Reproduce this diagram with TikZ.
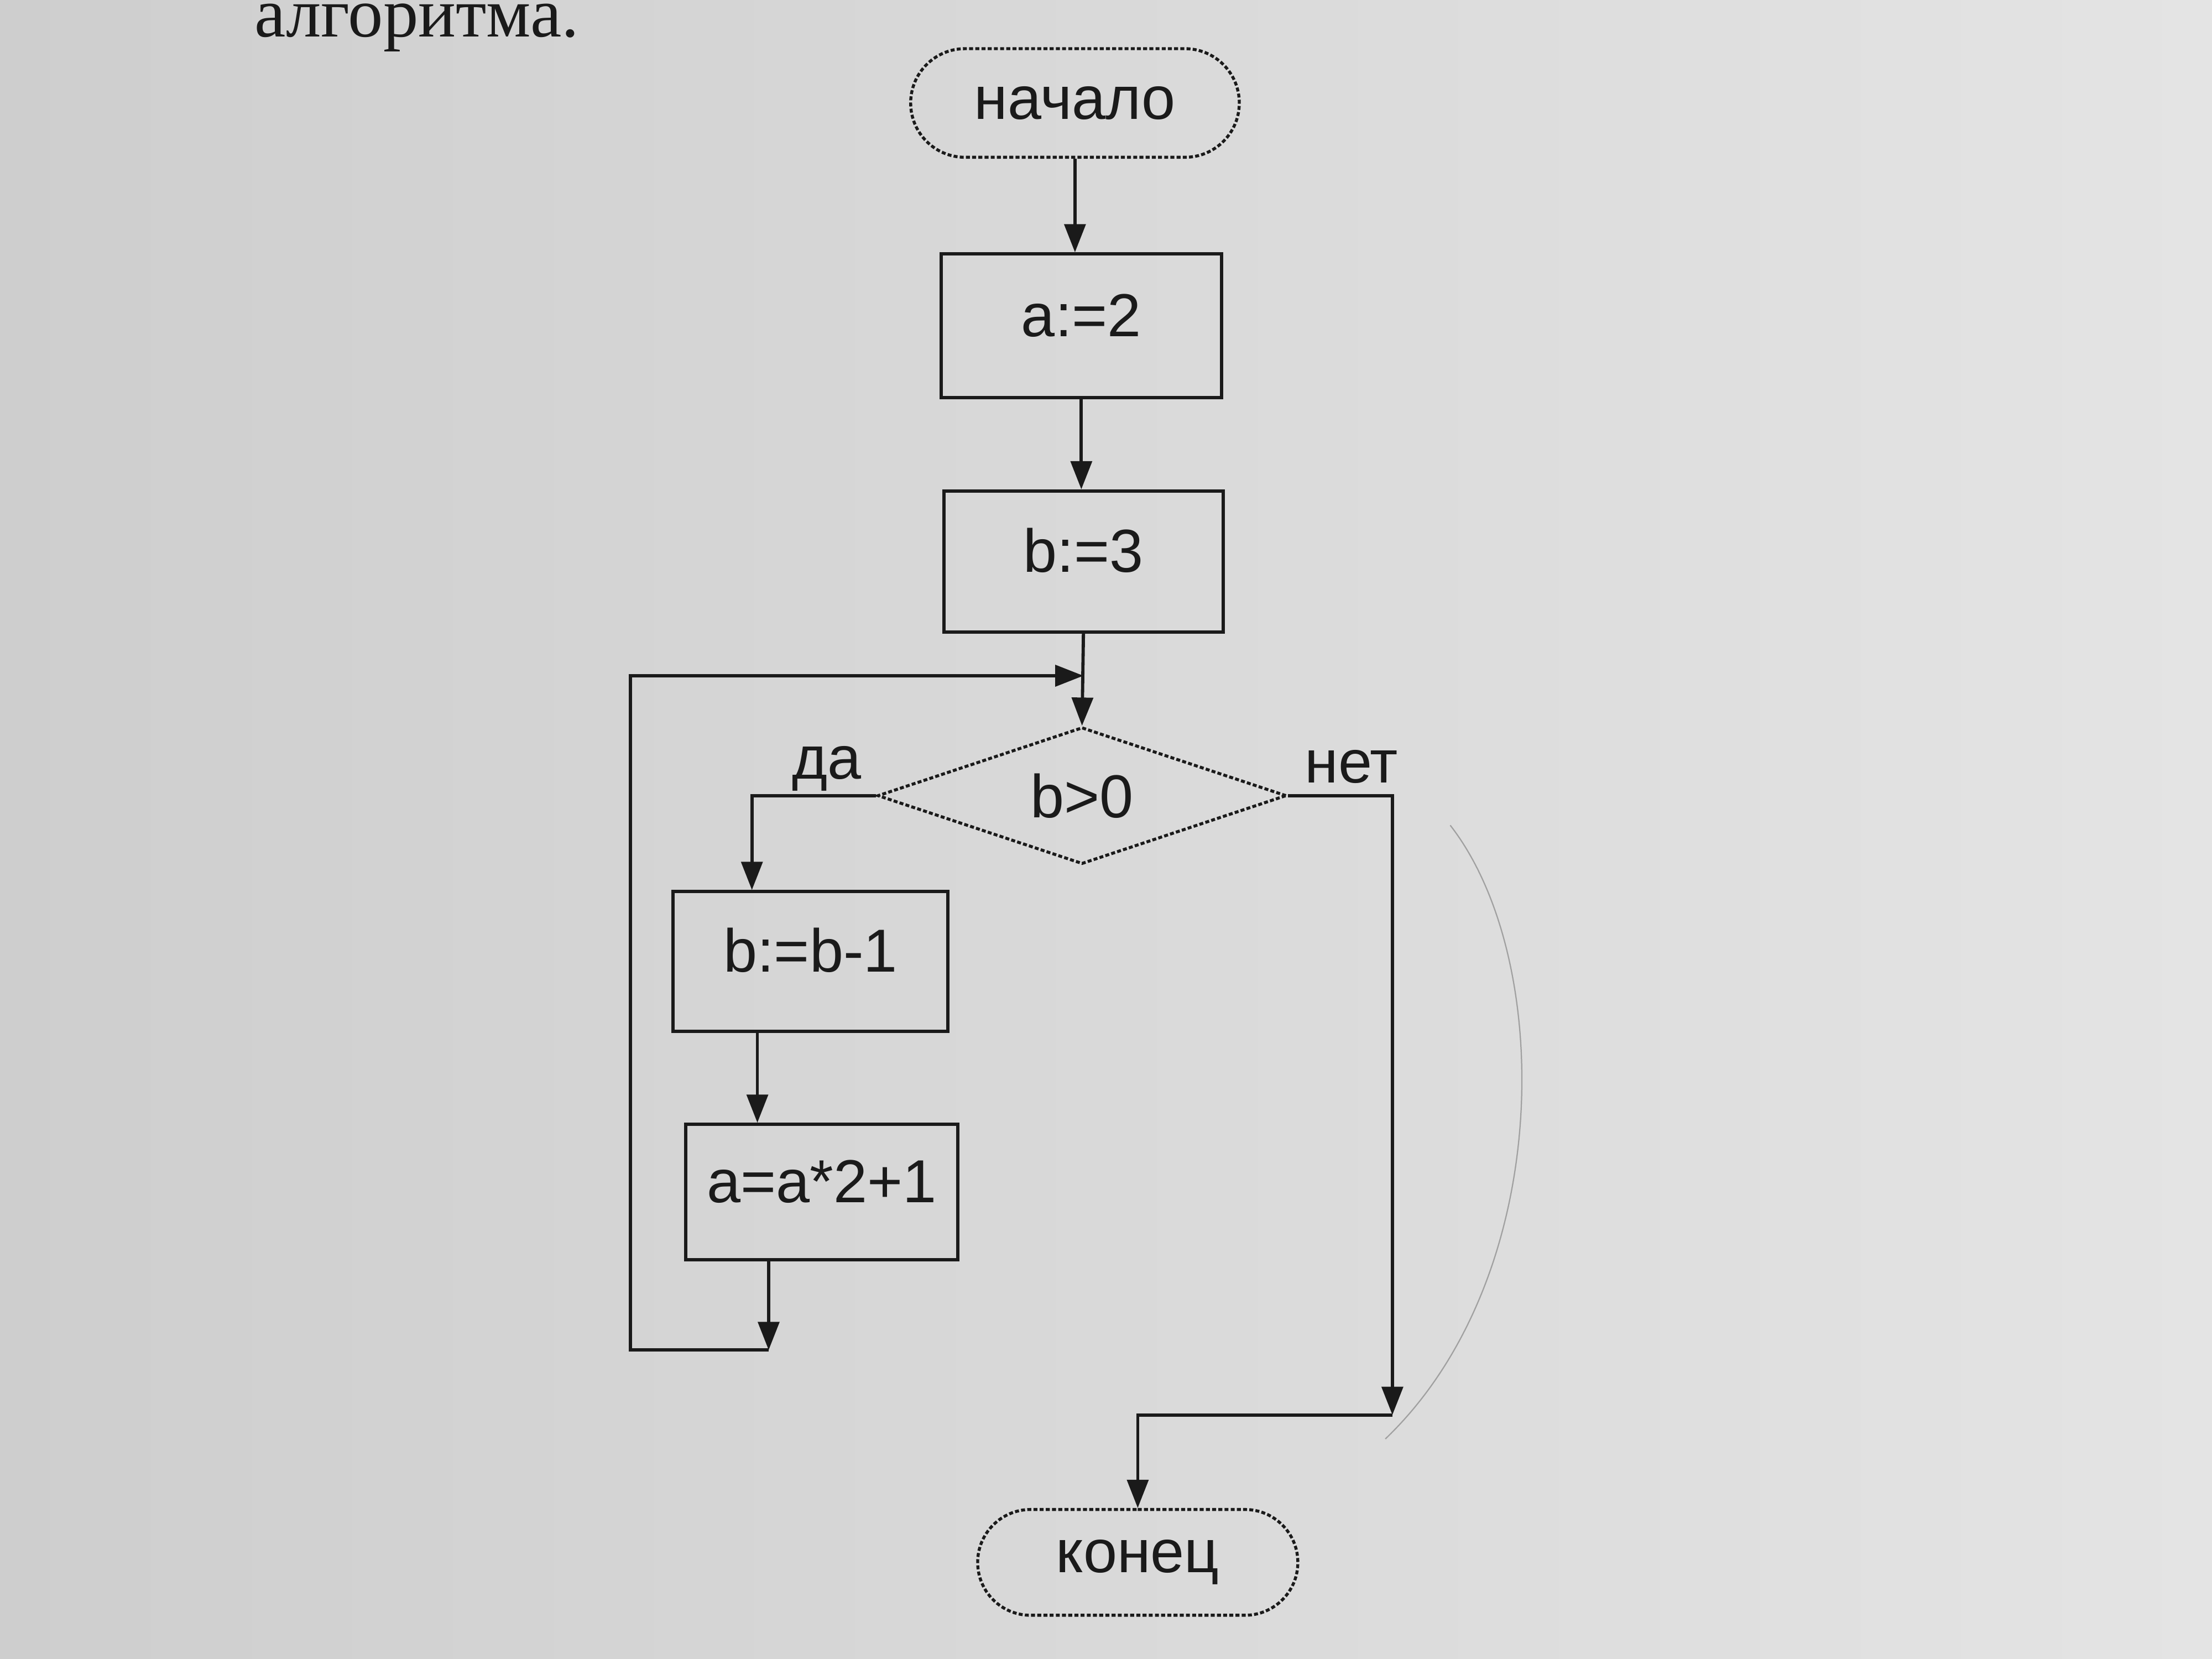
\documentclass[tikz,border=0pt]{standalone}
\usepackage{fontspec}
\setmainfont{Liberation Sans}
\newfontfamily\serifru{Liberation Serif}
\usetikzlibrary{shapes.geometric,shapes.misc,arrows.meta,calc}
\definecolor{ink}{RGB}{26,26,26}
\definecolor{paperL}{RGB}{206,206,206}
\definecolor{paperR}{RGB}{228,228,228}
\definecolor{pencil}{RGB}{160,160,160}
\tikzset{
  txt/.style={font=\fontsize{24.5}{29}\selectfont, text=ink},
  procbox/.style={rectangle, draw=ink, line width=1.3pt, inner sep=0pt, text height=0.62cm, text depth=0.32cm, txt},
  termbox/.style={rounded rectangle, draw=ink, line width=1.2pt, dash pattern=on 1.6pt off 0.9pt, inner sep=0pt, txt},
  decision/.style={diamond, draw=ink, line width=1.2pt, dash pattern=on 1.6pt off 0.9pt, inner sep=0pt, aspect=3, minimum width=5.8cm, minimum height=1.94cm, txt},
  conn/.style={draw=ink, line width=1.3pt},
  arr/.style={conn, -{Triangle[length=0.4cm,width=0.3cm]}},
}
\begin{document}
\begin{tikzpicture}[x=0.02cm,y=-0.02cm]
\useasboundingbox (0,0) rectangle (1568,1176);
\clip (0,0) rectangle (1568,1176);
\shade[left color=paperL, right color=paperR] (0,0) rectangle (1568,1176);

% heading fragment
\node[font=\serifru\fontsize{28.3}{34}\selectfont, text=ink, anchor=base west, inner sep=0pt] (title) at (180,26) {алгоритма.};

% nodes
\node[termbox, minimum width=4.66cm, minimum height=1.54cm] (start) at (762,73) {начало};
\node[procbox, minimum width=3.98cm, minimum height=2.04cm] (a2) at (766.5,231) {a:=2};
\node[procbox, minimum width=3.96cm, minimum height=2.0cm] (b3) at (768,398) {b:=3};
\node[decision] (cond) at (767,564) {b>0};
\node[procbox, minimum width=3.9cm, minimum height=1.98cm] (b1) at (574.5,681.5) {b:=b-1};
\node[procbox, minimum width=3.86cm, minimum height=1.92cm] (a21) at (582.5,845) {a=a*2+1};
\node[termbox, minimum width=4.54cm, minimum height=1.5cm] (finish) at (806.5,1107.5) {конец};

% labels
\node[txt, anchor=base, inner sep=0pt] (da) at (586,552) {да};
\node[txt, anchor=base, inner sep=0pt] (net) at (958,555) {нет};

% helper coordinates
\coordinate (join) at (768,479);
\coordinate (daT) at (533,564);
\coordinate (b1o) at ([xshift=1.22cm]b1.south west);
\coordinate (a21o) at ([xshift=1.2cm]a21.south west);
\coordinate (loopBL) at (447,957);
\coordinate (loopTL) at (447,479);
\coordinate (loopB) at (a21o |- loopBL);
\coordinate (netT) at (987,564);
\coordinate (netB) at (987,1003);
\coordinate (endT) at (806.5,1003);

% connectors
\draw[arr] (start.south) -- (start.south |- a2.north);
\draw[arr] (a2.south) -- (a2.south |- b3.north);
\draw[arr] (b3.south) -- (cond.north);
\draw[arr] (cond.west) -- (daT) -- (daT |- b1.north);
\draw[arr] (b1o) -- (b1o |- a21.north);
\draw[arr] (a21o) -- (loopB);
\draw[arr] (loopB) -- (loopBL) -- (loopTL) -- (join);
\draw[arr] (cond.east) -- (netT) -- (netB);
\draw[arr] (netB) -- (endT) -- (finish.north);

% faint pencil arc
\draw[pencil, line width=0.5pt] (1028,585) .. controls (1102,680) and (1102,905) .. (982,1020);
\end{tikzpicture}
\end{document}
